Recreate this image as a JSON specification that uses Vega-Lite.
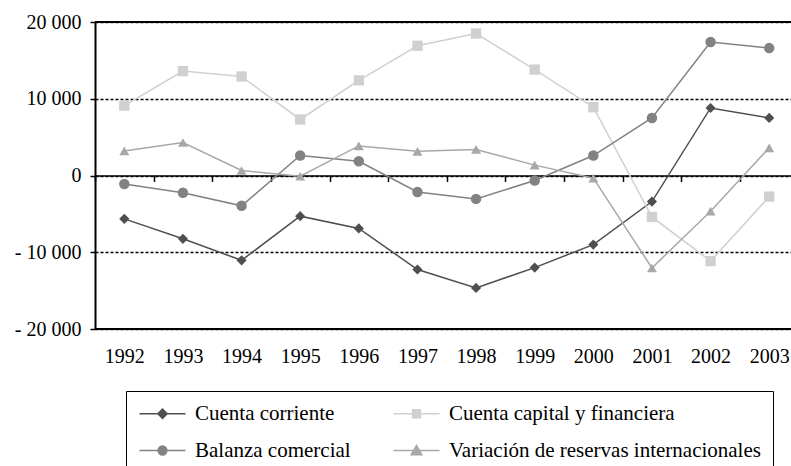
{
  "$schema": "https://vega.github.io/schema/vega-lite/v6.json",
  "autosize": {"type": "none"},
  "width": 696,
  "height": 307,
  "padding": {"left": 95, "top": 22, "right": 0, "bottom": 137},
  "background": "white",
  "config": {"view": {"stroke": null}, "font": "Liberation Serif"},
  "data": {"values": [
    {"year": "1992", "series": "Cuenta corriente", "value": -5650},
    {"year": "1993", "series": "Cuenta corriente", "value": -8250},
    {"year": "1994", "series": "Cuenta corriente", "value": -11050},
    {"year": "1995", "series": "Cuenta corriente", "value": -5300},
    {"year": "1996", "series": "Cuenta corriente", "value": -6900},
    {"year": "1997", "series": "Cuenta corriente", "value": -12250},
    {"year": "1998", "series": "Cuenta corriente", "value": -14650},
    {"year": "1999", "series": "Cuenta corriente", "value": -12000},
    {"year": "2000", "series": "Cuenta corriente", "value": -9000},
    {"year": "2001", "series": "Cuenta corriente", "value": -3400},
    {"year": "2002", "series": "Cuenta corriente", "value": 8800},
    {"year": "2003", "series": "Cuenta corriente", "value": 7500},
    {"year": "1992", "series": "Cuenta capital y financiera", "value": 9100},
    {"year": "1993", "series": "Cuenta capital y financiera", "value": 13600},
    {"year": "1994", "series": "Cuenta capital y financiera", "value": 12900},
    {"year": "1995", "series": "Cuenta capital y financiera", "value": 7300},
    {"year": "1996", "series": "Cuenta capital y financiera", "value": 12400},
    {"year": "1997", "series": "Cuenta capital y financiera", "value": 16900},
    {"year": "1998", "series": "Cuenta capital y financiera", "value": 18500},
    {"year": "1999", "series": "Cuenta capital y financiera", "value": 13800},
    {"year": "2000", "series": "Cuenta capital y financiera", "value": 8900},
    {"year": "2001", "series": "Cuenta capital y financiera", "value": -5400},
    {"year": "2002", "series": "Cuenta capital y financiera", "value": -11150},
    {"year": "2003", "series": "Cuenta capital y financiera", "value": -2750},
    {"year": "1992", "series": "Balanza comercial", "value": -1100},
    {"year": "1993", "series": "Balanza comercial", "value": -2250},
    {"year": "1994", "series": "Balanza comercial", "value": -3950},
    {"year": "1995", "series": "Balanza comercial", "value": 2600},
    {"year": "1996", "series": "Balanza comercial", "value": 1850},
    {"year": "1997", "series": "Balanza comercial", "value": -2150},
    {"year": "1998", "series": "Balanza comercial", "value": -3050},
    {"year": "1999", "series": "Balanza comercial", "value": -650},
    {"year": "2000", "series": "Balanza comercial", "value": 2600},
    {"year": "2001", "series": "Balanza comercial", "value": 7500},
    {"year": "2002", "series": "Balanza comercial", "value": 17400},
    {"year": "2003", "series": "Balanza comercial", "value": 16600},
    {"year": "1992", "series": "Variación de reservas internacionales", "value": 3200},
    {"year": "1993", "series": "Variación de reservas internacionales", "value": 4300},
    {"year": "1994", "series": "Variación de reservas internacionales", "value": 650},
    {"year": "1995", "series": "Variación de reservas internacionales", "value": -100},
    {"year": "1996", "series": "Variación de reservas internacionales", "value": 3850},
    {"year": "1997", "series": "Variación de reservas internacionales", "value": 3150},
    {"year": "1998", "series": "Variación de reservas internacionales", "value": 3400},
    {"year": "1999", "series": "Variación de reservas internacionales", "value": 1350},
    {"year": "2000", "series": "Variación de reservas internacionales", "value": -350},
    {"year": "2001", "series": "Variación de reservas internacionales", "value": -12050},
    {"year": "2002", "series": "Variación de reservas internacionales", "value": -4650},
    {"year": "2003", "series": "Variación de reservas internacionales", "value": 3600}
  ]},
  "encoding": {
    "y": {
      "field": "value", "type": "quantitative",
      "scale": {"domain": [-20000, 20000], "nice": false, "zero": false},
      "axis": {
        "title": null,
        "values": [-20000, -10000, 0, 10000, 20000],
        "labelExpr": "(datum.value < 0 ? '- ' : '') + replace(format(abs(datum.value), ','), ',', ' ')",
        "labelFont": "Liberation Serif", "labelFontSize": 20, "labelColor": "black",
        "labelPadding": 9,
        "tickSize": 5, "tickColor": "black", "tickWidth": 1.5,
        "domainColor": "black", "domainWidth": 2,
        "grid": true, "gridColor": "black", "gridDash": [3, 2], "gridWidth": 1.3
      }
    }
  },
  "layer": [
    {
      "data": {"values": [{"value": 20000}, {"value": -20000}]},
      "mark": {"type": "rule", "color": "black", "strokeWidth": 2},
      "encoding": {}
    },
    {
      "mark": {"type": "line", "strokeWidth": 1.5},
      "encoding": {
        "x": {
          "field": "year", "type": "ordinal",
          "scale": {"range": [0, 703.5], "paddingInner": 0, "paddingOuter": 0},
          "axis": {
            "title": null, "labelAngle": 0, "offset": -153.5,
            "tickBand": "extent", "tickSize": 6, "tickColor": "black", "tickWidth": 1.5,
            "domainColor": "black", "domainWidth": 1.5,
            "labelFont": "Liberation Serif", "labelFontSize": 20, "labelColor": "black",
            "labelPadding": 165, "grid": false
          }
        },
        "color": {
          "field": "series", "type": "nominal",
          "scale": {
            "domain": ["Cuenta corriente", "Cuenta capital y financiera", "Balanza comercial", "Variación de reservas internacionales"],
            "range": ["#4f4f4f", "#d0d0d0", "#828282", "#a8a8a8"]
          },
          "legend": {
            "title": null, "orient": "none", "legendX": 31, "legendY": 369,
            "columns": 2, "direction": "horizontal",
            "strokeColor": "black", "padding": 12,
            "columnPadding": 39, "rowPadding": 15,
            "symbolSize": 100, "symbolOffset": 14, "labelOffset": 22,
            "labelFont": "Liberation Serif", "labelFontSize": 21, "labelColor": "black",
            "labelLimit": 0,
            "encode": {
              "symbols": {
                "update": {
                  "shape": {"signal": "datum.value === 'Cuenta corriente' ? 'M-4.6,0H4.6M0,-0.95L0.95,0L0,0.95L-0.95,0Z' : datum.value === 'Cuenta capital y financiera' ? 'M-4.6,0H4.6M-0.8,-0.8H0.8V0.8H-0.8Z' : datum.value === 'Balanza comercial' ? 'M-4.6,0H4.6M-0.9,0A0.9,0.9 0 1 0 0.9,0A0.9,0.9 0 1 0 -0.9,0Z' : 'M-4.6,0H4.6M0,-1.05L1.1,0.85L-1.1,0.85Z'"},
                  "fill": {"signal": "datum.value === 'Cuenta corriente' ? '#4f4f4f' : datum.value === 'Cuenta capital y financiera' ? '#d0d0d0' : datum.value === 'Balanza comercial' ? '#828282' : '#a8a8a8'"},
                  "stroke": {"signal": "datum.value === 'Cuenta corriente' ? '#4f4f4f' : datum.value === 'Cuenta capital y financiera' ? '#d0d0d0' : datum.value === 'Balanza comercial' ? '#828282' : '#a8a8a8'"},
                  "strokeWidth": {"value": 1.3},
                  "opacity": {"value": 1}
                }
              }
            }
          }
        }
      }
    },
    {
      "mark": {"type": "point", "filled": true, "opacity": 1},
      "encoding": {
        "x": {"field": "year", "type": "ordinal"},
        "fill": {
          "field": "series", "type": "nominal",
          "scale": {"range": ["#828282", "#d0d0d0", "#4f4f4f", "#a8a8a8"]},
          "legend": null
        },
        "shape": {
          "field": "series", "type": "nominal",
          "scale": {"range": ["circle", "square", "diamond", "triangle-up"]},
          "legend": null
        },
        "size": {
          "field": "series", "type": "nominal",
          "scale": {"range": [110, 100, 130, 180]},
          "legend": null
        }
      }
    }
  ]
}
